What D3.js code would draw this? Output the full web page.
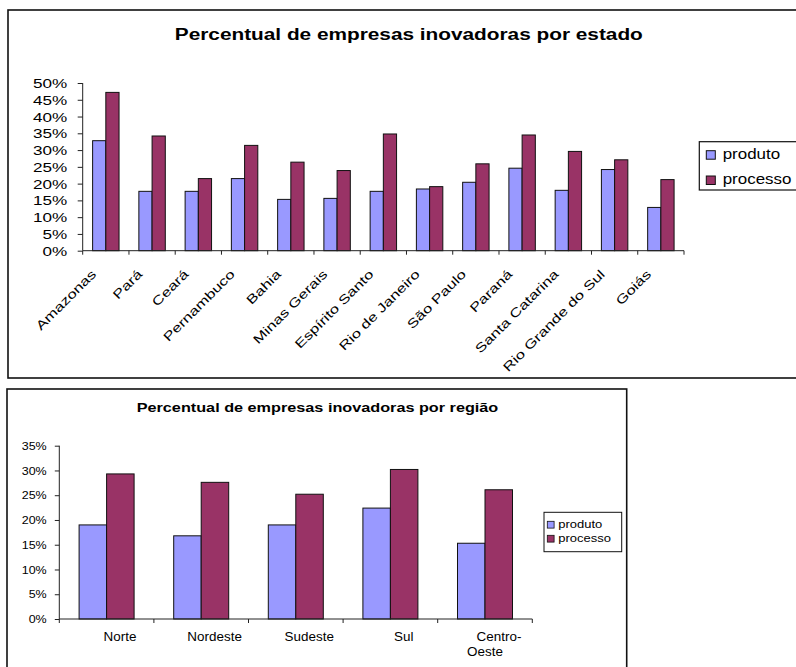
<!DOCTYPE html>
<html>
<head>
<meta charset="utf-8">
<script src="https://cdn.jsdelivr.net/npm/d3@7"></script>
<style>
  html, body { margin: 0; padding: 0; background: #fff; }
  svg { display: block; font-family: "Liberation Sans", Arial, sans-serif; }
</style>
</head>
<body>
<svg id="chart" width="796" height="667"></svg>
<script>
// Inovação por estado (%)
const estados = ["Amazonas", "Pará", "Ceará", "Pernambuco", "Bahia", "Minas Gerais",
  "Espírito Santo", "Rio de Janeiro", "São Paulo", "Paraná", "Santa Catarina",
  "Rio Grande do Sul", "Goiás"];
const produtoEstado = [32.8, 17.7, 17.7, 21.5, 15.3, 15.6, 17.7, 18.4, 20.4, 24.6, 18.0, 24.2, 12.9];
const processoEstado = [47.2, 34.2, 21.5, 31.4, 26.4, 23.9, 34.8, 19.1, 25.9, 34.5, 29.6, 27.1, 21.2];

// Inovação por região (%)
const regioes = ["Norte", "Nordeste", "Sudeste", "Sul", "Centro-Oeste"];
const produtoRegiao = [19.0, 16.8, 19.0, 22.4, 15.3];
const processoRegiao = [29.3, 27.6, 25.2, 30.2, 26.1];

const series = ["produto", "processo"];
const cores = { produto: "#9999FF", processo: "#993366" };
const tickEstado = d3.range(0, 0.5001, 0.05);
const tickRegiao = d3.range(0, 0.3501, 0.05);

const svg = d3.select("#chart");
const pct = d3.format(".0%");

function frame(x, y, w, h) {
  svg.append("rect").attr("x", x).attr("y", y).attr("width", w).attr("height", h)
    .attr("fill", "#fff").attr("stroke", "#111").attr("stroke-width", 1.6);
}

function drawChart(cfg) {
  const g = svg.append("g");
  const x0 = d3.scaleBand().domain(cfg.cats).range([cfg.left, cfg.right]).padding(0);
  const x1 = d3.scaleBand().domain(series).range([0, x0.bandwidth()])
    .paddingInner(0).paddingOuter(cfg.outer);
  const y = d3.scaleLinear().domain([0, cfg.max]).range([cfg.bottom, cfg.top]);

  const rows = cfg.cats.map((c, i) => ({ cat: c, produto: cfg.prod[i] / 100, processo: cfg.proc[i] / 100 }));

  // bars
  const grp = g.selectAll("g.grp").data(rows).join("g")
    .attr("transform", d => `translate(${x0(d.cat)},0)`);
  grp.selectAll("rect").data(d => series.map(s => ({ s, v: d[s] }))).join("rect")
    .attr("x", d => x1(d.s)).attr("width", x1.bandwidth())
    .attr("y", d => y(d.v)).attr("height", d => cfg.bottom - y(d.v))
    .attr("fill", d => cores[d.s]).attr("stroke", "#111").attr("stroke-width", 1);

  // y axis
  const ya = g.append("g").attr("transform", `translate(${cfg.left},0)`)
    .call(d3.axisLeft(y).tickValues(cfg.ticks).tickFormat(pct).tickSize(cfg.tick).tickPadding(0));
  ya.select(".domain").attr("stroke", "#222").attr("d", `M0,${cfg.top}V${cfg.bottom}`);
  ya.selectAll(".tick line").attr("stroke", "#222");
  ya.selectAll(".tick text")
    .attr("x", 0).attr("dy", "0.36em")
    .attr("transform", `translate(${-cfg.ylabGap},0) scale(${cfg.ySx},1)`)
    .attr("font-size", cfg.yFont).attr("fill", "#000")
    .attr("font-family", "Liberation Sans, Arial, sans-serif");

  // x axis: baseline with ticks on category boundaries
  const xa = g.append("g").attr("transform", `translate(0,${cfg.bottom})`);
  xa.append("line").attr("x1", cfg.left).attr("x2", cfg.right).attr("stroke", "#222");
  const bounds = cfg.cats.map(c => x0(c)).concat([cfg.right]);
  xa.selectAll("line.t").data(bounds).join("line").attr("class", "t")
    .attr("x1", d => d).attr("x2", d => d).attr("y1", 0).attr("y2", cfg.xtick)
    .attr("stroke", "#222");

  cfg.xLabels(g, x0);
  return { x0, y };
}

// ---------- por estado ----------
frame(8, 10, 800, 368);
svg.append("text").attr("x", 408.8).attr("y", 40).attr("text-anchor", "middle")
  .attr("font-size", 16).attr("font-weight", "bold")
  .attr("textLength", 468).attr("lengthAdjust", "spacingAndGlyphs")
  .text("Percentual de empresas inovadoras por estado");

drawChart({
  cats: estados, prod: produtoEstado, proc: processoEstado,
  left: 82.7, right: 684, top: 83, bottom: 250.7, max: 0.5,
  outer: 0.75, ticks: tickEstado, tick: 5, xtick: 4,
  ylabGap: 15.4, ySx: 1.36, yFont: 12.6,
  xLabels: (g, x0) => {
    g.selectAll("text.xl").data(estados).join("text").attr("class", "xl")
      .attr("text-anchor", "end").attr("font-size", 12.6)
      .attr("transform", d => `translate(${x0(d) + x0.bandwidth() / 2 - 9},275) rotate(-45) scale(1.33,1)`)
      .text(d => d);
  }
});

// legenda
const lg1 = svg.append("g");
lg1.append("rect").attr("x", 699.3).attr("y", 141.7).attr("width", 110).attr("height", 48.3)
  .attr("fill", "#fff").attr("stroke", "#111").attr("stroke-width", 1.2);
series.forEach((s, i) => {
  lg1.append("rect").attr("x", 706.3).attr("y", 150.7 + i * 25.3).attr("width", 9).attr("height", 8.5)
    .attr("fill", cores[s]).attr("stroke", "#111").attr("stroke-width", 1);
  lg1.append("text").attr("font-size", 15)
    .attr("transform", `translate(722.7,${159.3 + i * 25}) scale(1.13,1)`).text(s);
});

// ---------- por região ----------
frame(7, 389, 619.7, 300);
svg.append("text").attr("x", 317.5).attr("y", 411.7).attr("text-anchor", "middle")
  .attr("font-size", 12.5).attr("font-weight", "bold")
  .attr("textLength", 361.6).attr("lengthAdjust", "spacingAndGlyphs")
  .text("Percentual de empresas inovadoras por região");

drawChart({
  cats: regioes, prod: produtoRegiao, proc: processoRegiao,
  left: 59.3, right: 532.3, top: 445.7, bottom: 619, max: 0.35,
  outer: 0.72, ticks: tickRegiao, tick: 4.5, xtick: 4,
  ylabGap: 12.6, ySx: 1.2, yFont: 10.4,
  xLabels: (g, x0) => {
    const lab = g.selectAll("text.xl").data(regioes).join("text").attr("class", "xl")
      .attr("text-anchor", "middle").attr("font-size", 12);
    lab.each(function (d) {
      const t = d3.select(this);
      const cx = x0(d) + x0.bandwidth() / 2;
      const parts = d.includes("-") ? [d.slice(0, d.indexOf("-") + 1), d.slice(d.indexOf("-") + 1)] : [d];
      if (parts.length === 1) {
        t.attr("transform", `translate(${cx + 13.4},640.7) scale(1.12,1)`).text(d);
      } else {
        t.attr("transform", `translate(${cx},640.7) scale(1.12,1)`);
        t.append("tspan").attr("x", 14 / 1.12).attr("y", 0).text(parts[0]);
        t.append("tspan").attr("x", 0).attr("y", 15.3).text(parts[1]);
      }
    });
  }
});

const lg2 = svg.append("g");
lg2.append("rect").attr("x", 544).attr("y", 512.3).attr("width", 77.7).attr("height", 39.4)
  .attr("fill", "#fff").attr("stroke", "#111").attr("stroke-width", 1);
series.forEach((s, i) => {
  lg2.append("rect").attr("x", 547.3).attr("y", 521.3 + i * 14).attr("width", 6.8).attr("height", 6.8)
    .attr("fill", cores[s]).attr("stroke", "#111").attr("stroke-width", 0.8);
  lg2.append("text").attr("font-size", 11.7)
    .attr("transform", `translate(558.3,${528.3 + i * 14}) scale(1.11,1)`).text(s);
});
</script>
</body>
</html>
